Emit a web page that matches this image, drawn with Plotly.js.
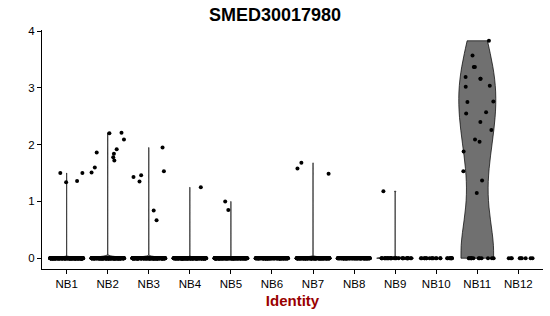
<!DOCTYPE html>
<html>
<head>
<meta charset="utf-8">
<script src="https://cdn.plot.ly/plotly-3.0.1.min.js"></script>
<style>html,body{margin:0;padding:0;background:#fff;}#chart{width:550px;height:316px;}</style>
</head>
<body>
<div id="chart"></div>
<script>
// Categories (identities)
var categories = ["NB1","NB2","NB3","NB4","NB5","NB6","NB7","NB8","NB9","NB10","NB11","NB12"];

// Non-zero expression values, per identity
var nb1Values  = [1.50, 1.50, 1.34, 1.36];
var nb2Values  = [2.09, 1.78, 1.51, 1.60, 1.84, 1.92, 1.72, 2.20, 2.21, 1.86];
var nb3Values  = [1.95, 1.35, 1.43, 1.46, 1.53, 0.84, 0.67];
var nb4Values  = [1.25];
var nb5Values  = [1.00, 0.85];
var nb6Values  = [];
var nb7Values  = [1.68, 1.58, 1.49];
var nb8Values  = [];
var nb9Values  = [1.18];
var nb10Values = [];
var nb11Values = [3.83, 3.57, 3.37, 3.37, 3.16, 3.16, 3.19, 3.04, 3.02, 2.75, 2.76,
                  2.57, 2.55, 2.40, 2.26, 2.09, 2.05, 1.88, 1.53, 1.37, 1.15];
var nb12Values = [];

// Estimated number of cells with zero expression, per identity
var zeroCounts = [300, 260, 260, 280, 260, 200, 240, 160, 28, 22, 12, 9];

// Y axis ticks
var yTicks = [0, 1, 2, 3, 4];

var nonZero = [nb1Values, nb2Values, nb3Values, nb4Values, nb5Values, nb6Values,
               nb7Values, nb8Values, nb9Values, nb10Values, nb11Values, nb12Values];

// deterministic pseudo-random jitter (cosmetic x spread only)
function mulberry32(a) {
  return function() {
    a |= 0; a = a + 0x6D2B79F5 | 0;
    var t = Math.imul(a ^ a >>> 15, 1 | a);
    t = t + Math.imul(t ^ t >>> 7, 61 | t) ^ t;
    return ((t ^ t >>> 14) >>> 0) / 4294967296;
  };
}
var rand = mulberry32(12345);

var traces = [];
var px = [], py = [];
categories.forEach(function(cat, i) {
  var vals = nonZero[i].slice();
  for (var k = 0; k < zeroCounts[i]; k++) vals.push(0);
  var maxV = Math.max.apply(null, vals);
  if (maxV > 0) {
    var tr = {
      type: 'violin',
      x0: i,
      y: vals,
      name: cat,
      points: false,
      spanmode: 'hard',
      scalemode: 'width',
      width: 0.9,
      fillcolor: 'rgb(112,112,112)',
      line: {color: 'black', width: 0.7},
      box: {visible: false},
      meanline: {visible: false},
      hoverinfo: 'skip',
      showlegend: false
    };
    if (i === 10) tr.bandwidth = 0.7;
    traces.push(tr);
  }
  vals.forEach(function(v) {
    px.push(i + (rand() - 0.5) * 0.8);
    py.push(v);
  });
});

traces.push({
  type: 'scatter',
  mode: 'markers',
  x: px,
  y: py,
  marker: {color: 'black', size: 4},
  hoverinfo: 'skip',
  showlegend: false
});

var font = "Liberation Sans, Arial, sans-serif";
var layout = {
  width: 550,
  height: 316,
  margin: {l: 42, r: 7, t: 30, b: 47},
  paper_bgcolor: 'white',
  plot_bgcolor: 'white',
  font: {family: font, size: 11, color: 'black'},
  title: {
    text: '<b>SMED30017980</b>',
    font: {family: font, size: 18, color: 'black'},
    xref: 'container', x: 0.5, xanchor: 'center',
    yref: 'container', y: 1 - 15 / 316, yanchor: 'middle'
  },
  xaxis: {
    range: [-0.6, 11.6],
    tickvals: categories.map(function(c, i) { return i; }),
    ticktext: categories,
    showgrid: false, zeroline: false,
    showline: true, linecolor: 'black', linewidth: 1,
    ticks: 'outside', ticklen: 4, tickcolor: 'black', tickwidth: 1,
    tickfont: {family: font, size: 11.5, color: 'black'},
    title: {
      text: '<b>Identity</b>',
      font: {family: font, size: 15, color: 'rgb(153,0,0)'},
      standoff: 6
    }
  },
  yaxis: {
    range: [-0.19, 4.02],
    tickvals: yTicks,
    ticktext: yTicks.map(String),
    showgrid: false, zeroline: false,
    showline: true, linecolor: 'black', linewidth: 1,
    ticks: 'outside', ticklen: 4, tickcolor: 'black', tickwidth: 1,
    tickfont: {family: font, size: 11.5, color: 'black'}
  }
};

Plotly.newPlot('chart', traces, layout, {displayModeBar: false, staticPlot: true});
</script>
</body>
</html>
